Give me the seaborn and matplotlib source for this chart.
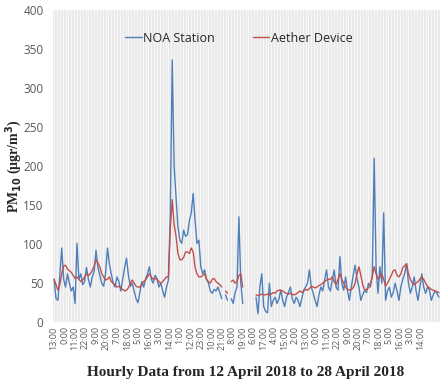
"""PM10 hourly data: NOA station vs Aether device, 12-28 April 2018."""
import matplotlib
matplotlib.use('Agg')
import matplotlib.pyplot as plt
import numpy as np
import pandas as pd
import seaborn as sns

nan = np.nan

# hours since 12 April 2018 13:00 (one reading every 2 h)
hours = np.arange(0, 405, 2)

noa_station = [
    55, 30, 28, 60, 95, 55, 45, 62, 50, 40,
    45, 24, 101, 55, 62, 48, 52, 70, 55, 45,
    58, 65, 92, 70, 60, 50, 46, 62, 95, 75,
    62, 50, 45, 58, 52, 40, 55, 70, 82, 60,
    46, 50, 40, 30, 25, 38, 52, 45, 55, 62,
    71, 55, 50, 60, 56, 45, 50, 40, 32, 45,
    54, 140, 336, 200, 160, 122, 105, 101, 118, 110,
    112, 130, 140, 165, 130, 101, 105, 71, 62, 67,
    55, 50, 40, 37, 42, 40, 45, 38, 30, nan,
    35, 28, nan, 30, 24, 38, 45, 135, 50, 24,
    nan, nan, nan, nan, nan, nan, 32, 11, 45, 62,
    20, 14, 12, 50, 20, 28, 32, 24, 30, 41,
    28, 20, 32, 38, 45, 30, 24, 32, 28, 20,
    30, 41, 45, 50, 67, 45, 37, 28, 20, 35,
    45, 40, 54, 67, 45, 40, 54, 67, 45, 41,
    84, 50, 41, 58, 40, 28, 45, 60, 73, 55,
    45, 28, 35, 41, 38, 50, 45, 60, 210, 71,
    37, 71, 50, 140, 28, 40, 45, 32, 38, 50,
    40, 28, 45, 55, 62, 75, 50, 37, 45, 58,
    40, 28, 45, 62, 45, 37, 45, 41, 28, 35,
    40, 37, 32,
]

aether_device = [
    55, 48, 41, 48, 62, 72, 73, 68, 66, 64,
    60, 56, 58, 55, 52, 54, 58, 62, 60, 62,
    66, 72, 80, 76, 71, 62, 58, 54, 55, 58,
    52, 50, 48, 45, 46, 44, 42, 40, 41, 44,
    50, 54, 50, 46, 45, 45, 48, 52, 54, 58,
    62, 58, 55, 56, 55, 52, 50, 52, 55, 58,
    58, 120, 157, 125, 110, 88, 80, 80, 83, 90,
    90, 88, 95, 90, 70, 62, 58, 58, 60, 62,
    55, 52, 50, 55, 56, 52, 50, 48, 45, nan,
    40, 37, nan, 52, 54, 50, 52, 60, 62, 45,
    nan, nan, nan, nan, nan, nan, 35, 34, 35, 36,
    35, 35, 36, 35, 36, 38, 37, 40, 41, 41,
    40, 38, 37, 36, 37, 36, 35, 36, 38, 40,
    38, 40, 42, 41, 43, 46, 45, 44, 45, 47,
    48, 50, 52, 54, 55, 55, 58, 52, 48, 55,
    62, 55, 50, 45, 42, 41, 42, 44, 50, 62,
    71, 60, 48, 41, 42, 44, 48, 58, 71, 62,
    55, 58, 62, 55, 46, 50, 55, 60, 66, 67,
    60, 58, 62, 70, 72, 75, 62, 55, 50, 48,
    50, 52, 55, 58, 55, 50, 46, 44, 42, 41,
    40, 39, 38,
]

series_names = ['NOA Station', 'Aether Device']
series_colors = ['#4f7fbb', '#c0504d']

tick_hours = np.arange(0, 386, 11)
tick_labels = ['13:00', '0:00', '11:00', '22:00', '9:00', '20:00', '7:00', '18:00',
               '5:00', '16:00', '3:00', '14:00', '1:00', '12:00', '23:00', '10:00',
               '21:00', '8:00', '19:00', '6:00', '17:00', '4:00', '15:00', '2:00',
               '13:00', '0:00', '11:00', '22:00', '9:00', '20:00', '7:00', '18:00',
               '5:00', '16:00', '3:00', '14:00']

# long-form table, with a segment id so missing readings leave gaps
frames = []
for name, vals in zip(series_names, [noa_station, aether_device]):
    df = pd.DataFrame({'hour': hours, 'pm10': vals, 'series': name})
    df['segment'] = df['pm10'].isna().cumsum()
    frames.append(df.dropna())
data = pd.concat(frames, ignore_index=True)
data['unit'] = data['series'] + data['segment'].astype(str)

sns.set_style('white')
plt.rcParams['font.family'] = ['Open Sans', 'DejaVu Sans']

fig = plt.figure(figsize=(4.43, 3.84), dpi=100)
ax = fig.add_axes([0.12, 0.161, 0.873, 0.813])
ax.set_facecolor('#eaeaea')

# light vertical grid in the background
for h in np.arange(0, 405, 3):
    ax.axvline(h, color='white', lw=0.5, alpha=0.9, zorder=0)

sns.lineplot(data=data, x='hour', y='pm10', hue='series', units='unit',
             estimator=None, palette=dict(zip(series_names, series_colors)),
             linewidth=1.0, ax=ax, legend=False, zorder=2)

ax.set_xlim(-1, 405)
ax.set_ylim(0, 400)
ax.set_yticks(range(0, 401, 50))
ax.set_xticks(tick_hours)
ax.set_xticklabels(tick_labels, rotation=90, fontsize=6.5, color='#595959')
ax.tick_params(axis='y', labelsize=8.5, colors='#595959', length=0, pad=7)
ax.tick_params(axis='x', length=0, pad=3)
for s in ax.spines.values():
    s.set_visible(False)

ax.set_xlabel('Hourly Data from 12 April 2018 to 28 April 2018',
              family='Liberation Serif', fontweight='bold', fontsize=11)
ax.xaxis.set_label_coords(0.497, -0.141)
ax.set_ylabel(r'PM$_{\mathbf{10}}$ (μgr/m$^{\mathbf{3}}$)', family='Liberation Serif',
              fontweight='bold', fontsize=10)
ax.yaxis.set_label_coords(-0.075, 0.5)

handles = [plt.Line2D([], [], color=c, lw=1.0) for c in series_colors]
ax.legend(handles, series_names, loc='center', bbox_to_anchor=(0.48, 0.91), ncol=2,
          frameon=False, fontsize=9, handlelength=1.35, handletextpad=0.1,
          columnspacing=3.0)

fig.savefig('out.png', dpi=100)
